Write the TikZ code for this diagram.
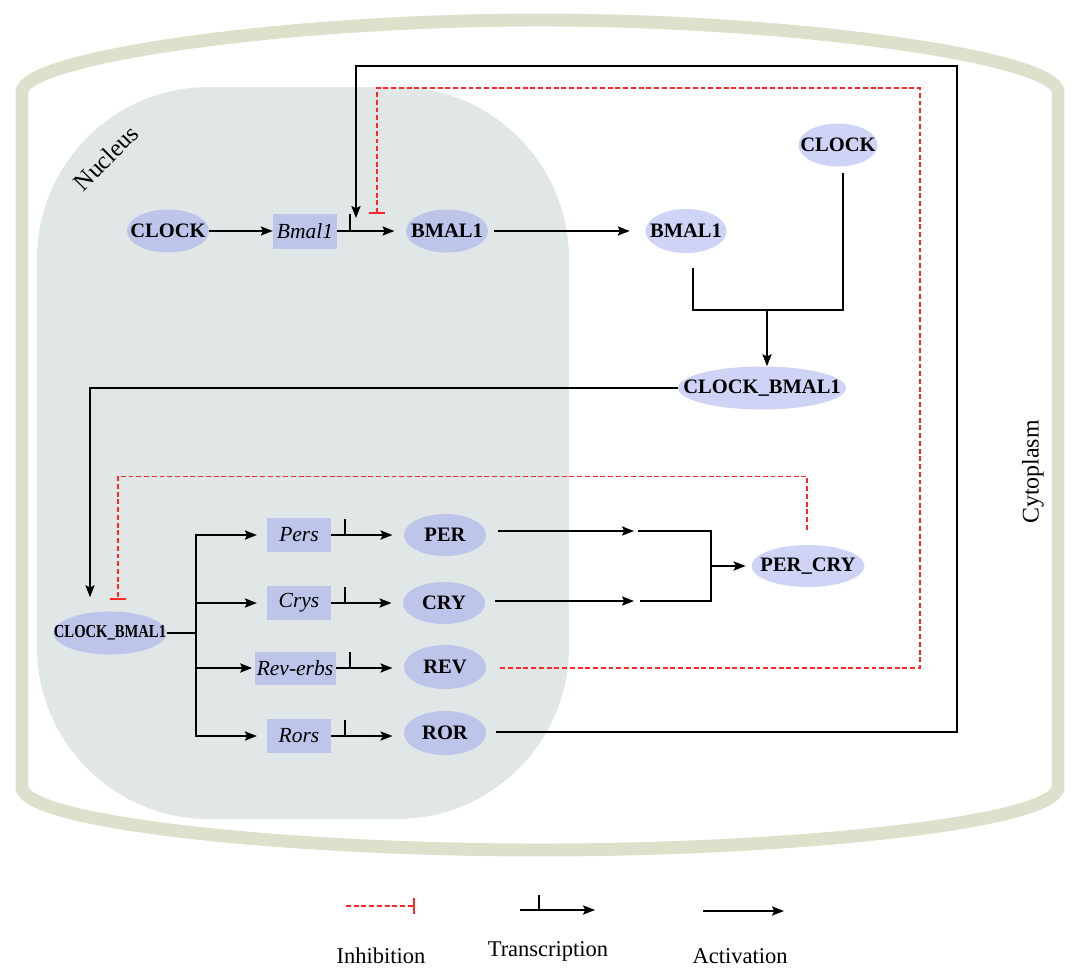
\documentclass[tikz,border=0pt]{standalone}
\usepackage{fontspec}
\usepackage{graphicx}
\setmainfont{Liberation Serif}
\usetikzlibrary{shapes.geometric,arrows.meta,calc}
\definecolor{cellc}{RGB}{221,225,203}
\definecolor{nucc}{RGB}{225,230,230}
\definecolor{protin}{RGB}{190,197,234}
\definecolor{protout}{RGB}{207,211,246}
\definecolor{genec}{RGB}{190,197,234}
\definecolor{inhred}{RGB}{255,40,40}
\begin{document}
\begin{tikzpicture}[x=0.025cm,y=-0.025cm,
  sz/.style 2 args={minimum width=#1*0.025cm, minimum height=#2*0.025cm},
  prot/.style={ellipse, inner sep=0pt, font=\fontsize{14.6}{16}\selectfont\bfseries},
  pin/.style={prot, fill=protin},
  pout/.style={prot, fill=protout},
  gene/.style={rectangle, fill=genec, inner sep=0pt, font=\fontsize{15.3}{17}\selectfont\itshape},
  line/.style={line width=1.3pt, black},
  act/.style={line, -{Stealth[length=8.5pt,width=6.5pt,inset=1.5pt]}},
  inh/.style={inhred, line width=0.9pt, dash pattern=on 3.5pt off 2pt, -{Bar[width=12pt,line width=1.4pt]}},
  legtext/.style={font=\fontsize{16}{19}\selectfont},
]
\useasboundingbox (0,0) rectangle (1072,968);

% cell membrane
\draw[cellc, line width=9.2pt] (22,92) .. controls (22,58) and (280,20) .. (540,20)
  .. controls (800,20) and (1058,58) .. (1058,92) -- (1058,787)
  .. controls (1058,822) and (800,850) .. (540,850)
  .. controls (280,850) and (22,822) .. (22,787) -- cycle;

% nucleus
\fill[nucc, rounded corners=4.3cm] (37,87) rectangle (569,819);
\node[rotate=45, font=\fontsize{17.5}{20}\selectfont] (nuclab) at (106,158) {Nucleus};
\node[rotate=90, font=\fontsize{17}{20}\selectfont] (cytolab) at (1033,472) {Cytoplasm};

% nodes
\node[pin, sz={82}{43}] (clockN) at (168,231) {\makebox[0pt]{CLOCK}};
\node[gene, sz={64}{35}] (bmal1g) at (305,231) {Bmal1};
\node[pin, sz={82}{43}] (bmalN) at (447,231) {\makebox[0pt]{BMAL1}};
\node[pout, sz={81}{44}] (bmalC) at (686,231) {\makebox[0pt]{BMAL1}};
\node[pout, sz={79}{43}] (clockC) at (838,145) {\makebox[0pt]{CLOCK}};
\node[pout, sz={168}{43}] (cbC) at (762,388) {\makebox[0pt]{CLOCK\_BMAL1}};
\node[pin, sz={113}{43}] (cbN) at (110,633) {\makebox[0pt]{\scalebox{0.8}[1]{\fontsize{13}{15}\selectfont\bfseries CLOCK\_BMAL1}}};

\node[gene, sz={64}{34}] (pers) at (299,535) {Pers};
\node[gene, sz={64}{34}] (crys) at (299,603) {Crys};
\node[gene, sz={81}{33}] (reverbs) at (295,668) {Rev-erbs};
\node[gene, sz={64}{34}] (rors) at (299,736) {Rors};

\node[pin, sz={82}{42}] (per) at (445,535) {\makebox[0pt]{PER}};
\node[pin, sz={82}{42}] (cry) at (444,603) {\makebox[0pt]{CRY}};
\node[pin, sz={82}{44}] (rev) at (445,667) {\makebox[0pt]{REV}};
\node[pin, sz={82}{44}] (ror) at (445,733) {\makebox[0pt]{ROR}};
\node[pout, sz={113}{42}] (percry) at (808,566) {\makebox[0pt]{PER\_CRY}};

% top row
\draw[act, line width=1pt] (clockN) -- (bmal1g);
\draw[act, shorten >=8pt] (bmal1g.east) -- (bmalN.west);
\draw[line] ($(bmal1g.east)+(13,0)$) -- ++(0,-17);
\draw[act, shorten <=4pt, shorten >=11pt] (bmalN.east) -- (bmalC.west);

% complex formation
\coordinate (merge) at (767,310);
\draw[line] ($(clockC.south)+(5,6)$) |- (merge);
\draw[line] ($(bmalC.south)+(7,15)$) |- (merge);
\draw[act] (merge) -- (merge |- cbC.north);

% complex to nucleus
\draw[act] (cbC.west) -| ($(cbN.north)+(-20,-14)$);

% feedback loops
\coordinate (actT) at (356,218);
\draw[act] ($(ror.east)+(10,-1)$) -| (957,66) -| (actT);
\coordinate (inhT) at (377,214);
\draw[inh] ($(rev.east)+(14,1)$) -| (920,88) -| (inhT);
\draw[inh] ($(percry.north)+(-1,-15)$) |- ($(cbN.north)+(8,-135)$) -- ($(cbN.north)+(8,-11)$);

% trunk to genes
\coordinate (trunk) at (196,633);
\draw[line] (cbN.east) -- (trunk);
\draw[act, shorten >=7pt] (trunk) |- (pers.west);
\draw[act, shorten >=7pt] (trunk) |- (crys.west);
\draw[act, shorten >=1.5pt] (trunk) |- (reverbs.west);
\draw[act, shorten >=7pt] (trunk) |- (rors.west);

% transcription
\foreach \g/\p in {pers/per, crys/cry, reverbs/rev, rors/ror}{
  \draw[act, shorten >=8pt] (\g.east) -- (\g.east -| \p.west);
  \draw[line] ($(\g.east)+(14,0)$) -- ++(0,-16);
}

% PER + CRY -> PER_CRY
\coordinate (perEnd) at (634,531);
\coordinate (cryEnd) at (634,601);
\draw[act] ($(per.east)+(12,-4)$) -- (perEnd);
\draw[act] ($(cry.east)+(10,-2)$) -- (cryEnd);
\coordinate (mt) at (638,531);
\coordinate (mc1) at (711,531);
\coordinate (mc2) at (711,601);
\coordinate (mb) at (640,601);
\coordinate (mm) at (711,566);
\draw[line] (mt) -- (mc1) -- (mc2) -- (mb);
\draw[act, shorten >=4pt] (mm) -- (percry.west);

% legend
\coordinate (li1) at (346,906);
\coordinate (li2) at (415,906);
\draw[inh] (li1) -- (li2);
\coordinate (lt1) at (520,910);
\coordinate (lt2) at (595,910);
\draw[act] (lt1) -- (lt2);
\draw[line] ($(lt1)+(19,0)$) -- ++(0,-15);
\coordinate (la1) at (703,911);
\coordinate (la2) at (784,911);
\draw[act] (la1) -- (la2);
\node[legtext] (linh) at (381,956) {Inhibition};
\node[legtext] (ltr) at (548,951) {Transcription};
\node[legtext] (lact) at (740,956) {Activation};
\end{tikzpicture}
\end{document}
